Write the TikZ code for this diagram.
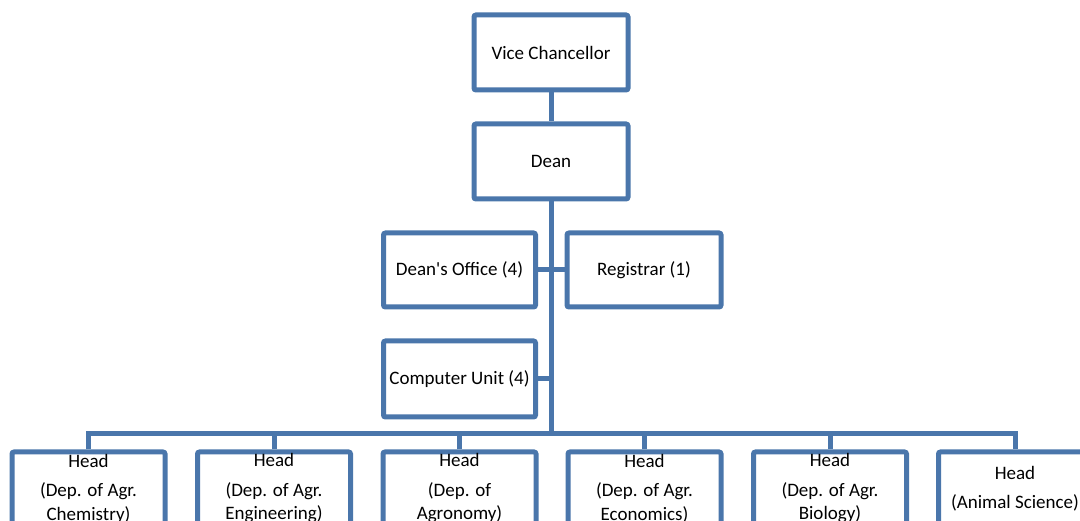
\documentclass[tikz,border=0pt]{standalone}
\usepackage{fontspec}
\setmainfont{Carlito}
\definecolor{orgblue}{HTML}{4A76AB}
\begin{document}
\begin{tikzpicture}[x=1pt,y=-1pt,
  box/.style={draw=orgblue, line width=5pt, rounded corners=2pt, fill=white,
    inner sep=0pt, align=center, font=\fontsize{19}{23.5}\selectfont},
  topbox/.style={box, minimum width=154pt, minimum height=75pt},
  midbox/.style={box, minimum width=152pt, minimum height=74pt},
  headbox/.style={box, minimum width=153pt, minimum height=73pt},
  link/.style={draw=orgblue, line width=5pt}]
\useasboundingbox (0,0) rectangle (1080,521);
\clip (0,0) rectangle (1080,521);
\node[topbox] (vc) at (551,52.5) {Vice Chancellor};
\node[topbox] (dean) at (551,161.5) {Dean};
\node[midbox] (office) at (459.5,270) {Dean\textquotesingle s Office (4)};
\node[midbox, minimum width=154pt] (reg) at (644,270) {Registrar (1)};
\node[midbox, minimum height=76pt] (cu) at (459.5,379) {Computer Unit (4)};
\coordinate (bus) at (551,434);
\node[headbox] (h1) at (88.5,488.5) {Head\\[6pt](Dep. of Agr.\\Chemistry)};
\node[headbox] (h2) at (274,488.5) {Head\\[6pt](Dep. of Agr.\\Engineering)};
\node[headbox] (h3) at (459.5,488.5) {Head\\[6pt](Dep. of\\Agronomy)};
\node[headbox] (h4) at (644.5,488.5) {Head\\[6pt](Dep. of Agr.\\Economics)};
\node[headbox] (h5) at (830,488.5) {Head\\[6pt](Dep. of Agr.\\Biology)};
\node[headbox] (h6) at (1015,488.5) {Head\\[6pt](Animal Science)};
\draw[link] (vc.south) -- (dean.north);
\draw[link] (dean.south) -- (bus);
\draw[link] (office.east) -- (reg.west);
\draw[link] (cu.east) -- (cu.east -| bus);
\draw[link] (h1.north) -- (h1.north |- bus) -- (h6.north |- bus) -- (h6.north);
\foreach \h in {h2,h3,h4,h5} \draw[link] (\h.north) -- (\h.north |- bus);
\end{tikzpicture}
\end{document}
